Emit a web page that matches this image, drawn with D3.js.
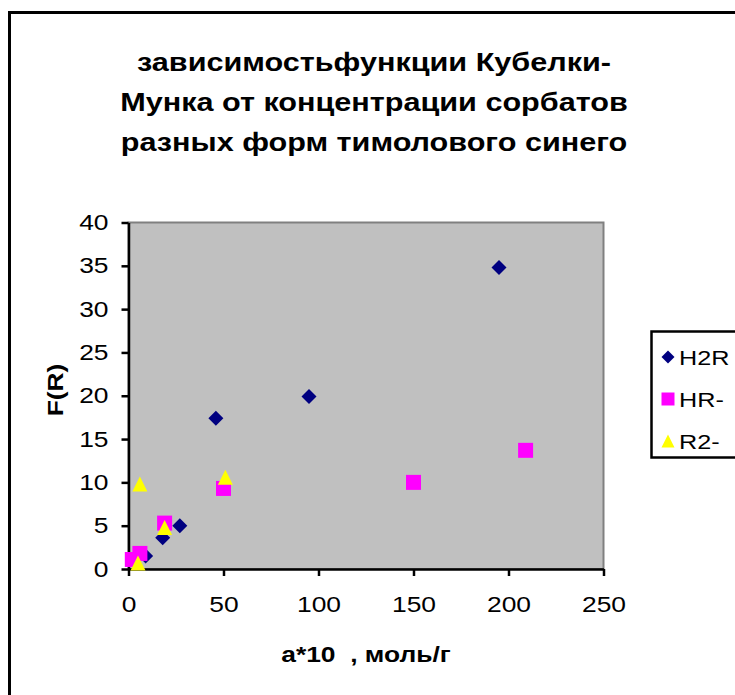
<!DOCTYPE html>
<html>
<head>
<meta charset="utf-8">
<script src="https://cdn.jsdelivr.net/npm/d3@7"></script>
<style>
  body { margin: 0; background: #fff; }
  text { font-family: "Liberation Sans", Arial, sans-serif; }
</style>
</head>
<body>
<script>
const width = 735;
const height = 695;

// data
const titleLines = [
  "зависимостьфункции Кубелки-",
  "Мунка от концентрации сорбатов",
  "разных форм тимолового синего",
];
const xTicks = [0, 50, 100, 150, 200, 250];
const yTicks = [0, 5, 10, 15, 20, 25, 30, 35, 40];

const h2rX = [195, 95, 46, 27, 18, 9];
const h2rY = [34.8, 19.9, 17.4, 5.0, 3.6, 1.5];
const hrX = [209, 150, 50, 19, 6, 2];
const hrY = [13.7, 10.0, 9.3, 5.3, 1.8, 1.1];
const r2X = [51, 6, 19, 5];
const r2Y = [10.6, 9.8, 4.8, 0.7];

const seriesNames = ["H2R", "HR-", "R2-"];
const seriesColors = ["#000080", "#ff00ff", "#ffff00"];
const seriesShapes = ["diamond", "square", "triangle"];

const plot = { left: 128.5, right: 603.5, top: 222.5, bottom: 569 };
const stretchX = 1.2; // the original text is drawn a bit wide

const svg = d3.select('body')
  .append('svg')
  .attr('width', width)
  .attr('height', height);

// turns x/y of a text into a translate and widens it
function stretch(sel) {
  sel.each(function() {
    const t = d3.select(this);
    const x = +t.attr('x') || 0;
    const y = +t.attr('y') || 0;
    t.attr('x', null).attr('y', null)
      .attr('transform', 'translate(' + x + ',' + y + ') scale(' + stretchX + ',1)');
  });
}

// outer chart border (runs off right/bottom)
svg.append('rect')
  .attr('x', 9.5)
  .attr('y', 12.5)
  .attr('width', 800)
  .attr('height', 800)
  .attr('fill', '#fff')
  .attr('stroke', '#000')
  .attr('stroke-width', 3);

// title
svg.append('g')
  .selectAll('text')
  .data(titleLines)
  .enter()
  .append('text')
  .attr('x', 374)
  .attr('y', (d, i) => 71 + i * 40)
  .attr('text-anchor', 'middle')
  .attr('font-size', 25.5)
  .attr('font-weight', 'bold')
  .text(d => d)
  .call(stretch);

const xScale = d3.scaleLinear()
  .domain([0, 250])
  .range([plot.left, plot.right]);
const yScale = d3.scaleLinear()
  .domain([0, 40])
  .range([plot.bottom, plot.top]);

// plot area
svg.append('rect')
  .attr('x', plot.left)
  .attr('y', plot.top)
  .attr('width', plot.right - plot.left)
  .attr('height', plot.bottom - plot.top)
  .attr('fill', '#c0c0c0')
  .attr('stroke', '#808080')
  .attr('stroke-width', 2);

// axes
const xAxis = d3.axisBottom(xScale)
  .tickValues(xTicks)
  .tickSizeOuter(0)
  .tickSizeInner(7)
  .tickPadding(20);
const xg = svg.append('g')
  .attr('class', 'x_axis')
  .attr('transform', 'translate(0,' + plot.bottom + ')')
  .call(xAxis);

const yAxis = d3.axisLeft(yScale)
  .tickValues(yTicks)
  .tickSizeOuter(0)
  .tickSizeInner(7)
  .tickPadding(13);
const yg = svg.append('g')
  .attr('class', 'y_axis')
  .attr('transform', 'translate(' + plot.left + ',0)')
  .call(yAxis);

[xg, yg].forEach(g => {
  g.selectAll('path.domain').attr('stroke', '#000').attr('stroke-width', 2.5);
  g.selectAll('.tick line').attr('stroke', '#000').attr('stroke-width', 2.5);
  g.selectAll('.tick text')
    .attr('fill', '#000')
    .attr('font-size', 22)
    .attr('font-family', '"Liberation Sans", Arial, sans-serif')
    .call(stretch);
});

// axis titles
svg.append('text')
  .attr('x', (plot.left + plot.right) / 2)
  .attr('y', 662)
  .attr('text-anchor', 'middle')
  .attr('font-size', 22)
  .attr('font-weight', 'bold')
  .attr('xml:space', 'preserve')
  .style('white-space', 'pre')
  .text('a*10  , моль/г')
  .call(stretch);

svg.append('text')
  .attr('transform', 'translate(63,390) rotate(-90) scale(' + stretchX + ',1)')
  .attr('text-anchor', 'middle')
  .attr('font-size', 22)
  .attr('font-weight', 'bold')
  .text('F(R)');

// marker shapes
function marker(shape, s) {
  const h = s / 2;
  if (shape === 'diamond') {
    return `M0,${-h}L${h},0L0,${h}L${-h},0Z`;
  }
  if (shape === 'square') {
    return `M${-h},${-h}H${h}V${h}H${-h}Z`;
  }
  return `M0,${-h}L${h},${h}L${-h},${h}Z`;
}

const series = [
  { xs: h2rX, ys: h2rY, size: 15 },
  { xs: hrX, ys: hrY, size: 15 },
  { xs: r2X, ys: r2Y, size: 15 },
];

const chart_g = svg.append('g').attr('class', 'body');

series.forEach((s, si) => {
  const pts = s.xs.map((x, i) => ({ x: x, y: s.ys[i] }));
  chart_g.append('g')
    .selectAll('path')
    .data(pts)
    .enter()
    .append('path')
    .attr('d', marker(seriesShapes[si], s.size))
    .attr('transform', d => 'translate(' + xScale(d.x) + ',' + yScale(d.y) + ')')
    .attr('fill', seriesColors[si]);
});

// legend
const legend = svg.append('g').attr('class', 'legend');
legend.append('rect')
  .attr('x', 651.5)
  .attr('y', 331.5)
  .attr('width', 120)
  .attr('height', 126)
  .attr('fill', '#fff')
  .attr('stroke', '#000')
  .attr('stroke-width', 2.5);

const item = legend.selectAll('g.item')
  .data(seriesNames)
  .enter()
  .append('g')
  .attr('class', 'item')
  .attr('transform', (d, i) => 'translate(0,' + (357 + i * 42) + ')');

item.append('path')
  .attr('transform', 'translate(668,0)')
  .attr('d', (d, i) => marker(seriesShapes[i], 13))
  .attr('fill', (d, i) => seriesColors[i]);

item.append('text')
  .attr('x', 679)
  .attr('y', 7.5)
  .attr('font-size', 21)
  .text(d => d)
  .call(stretch);
</script>
</body>
</html>
